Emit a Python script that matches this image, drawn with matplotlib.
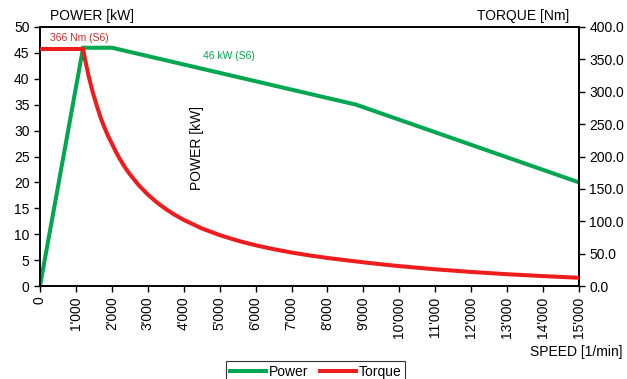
import matplotlib
matplotlib.use("Agg")
import matplotlib.pyplot as plt
from matplotlib.ticker import FuncFormatter, MultipleLocator

plt.rcParams['font.family'] = ['Liberation Sans', 'DejaVu Sans']

# Power curve breakpoints (speed in 1/min, power in kW)
power_speed = [0, 1200, 2000, 8800, 15000]
power_kw = [0, 46, 46, 35, 20]

# Torque curve (speed in 1/min, torque in Nm)
torque_speed = [0, 1200, 1250, 1300, 1350, 1400, 1450, 1500, 1600, 1700, 1800,
                1900, 2000, 2100, 2200, 2300, 2400, 2500, 2750, 3000, 3250,
                3500, 3750, 4000, 4500, 5000, 5500, 6000, 6500, 7000, 7500,
                8000, 8500, 9000, 9500, 10000, 11000, 12000, 13000, 14000, 15000]
torque_nm = [366, 366, 351, 338, 325, 314, 303, 293, 275, 258, 244,
             231, 220, 208.5, 198.3, 189, 180.4, 172.6, 155.5, 141.3, 129.2,
             118.9, 109.9, 102.1, 89, 78.6, 70, 62.9, 56.9, 51.7, 47.2,
             43.3, 39.9, 36.6, 33.5, 30.7, 25.8, 21.7, 18.2, 15.3, 12.7]

speed_ticks = list(range(0, 15001, 1000))

GREEN = '#00a650'
RED = '#ee1c1c'

fig = plt.figure(figsize=(6.27, 3.79), dpi=100)
ax = fig.add_axes([40 / 627, 1 - 286 / 379, 539 / 627, 259 / 379])
ax2 = ax.twinx()

lp, = ax.plot(power_speed, power_kw, color=GREEN, lw=2.9, solid_joinstyle='miter',
              label='Power', zorder=3)
lt, = ax2.plot(torque_speed, torque_nm, color=RED, lw=2.9, solid_joinstyle='round',
               label='Torque', zorder=3)

ax.set_xlim(0, 15000)
ax.set_ylim(0, 50)
ax2.set_ylim(0, 400)
ax.set_xticks(speed_ticks)
ax.xaxis.set_major_formatter(FuncFormatter(lambda v, p: f"{int(v):,}".replace(',', "'")))
ax.yaxis.set_major_locator(MultipleLocator(5))
ax2.yaxis.set_major_locator(MultipleLocator(50))
ax2.yaxis.set_major_formatter(FuncFormatter(lambda v, p: f"{v:.1f}"))

for a in (ax, ax2):
    a.tick_params(direction='out', length=4, width=1, labelsize=10, colors='black')
    for s in a.spines.values():
        s.set_linewidth(1.2)
ax.tick_params(axis='x', labelrotation=90)

fig.text(50 / 627, 1 - 16 / 379, 'POWER [kW]', fontsize=10, va='center', ha='left')
fig.text(569 / 627, 1 - 16 / 379, 'TORQUE [Nm]', fontsize=10, va='center', ha='right')
fig.text(622 / 627, 1 - 352 / 379, 'SPEED [1/min]', fontsize=10, va='center', ha='right')
fig.text(197 / 627, 1 - 148 / 379, 'POWER [kW]', fontsize=10, rotation=90,
         va='center', ha='center')

ax.text(280, 47.8, '366 Nm (S6)', color='#d42a2a', fontsize=7.5, va='center', ha='left')
ax.text(4550, 44.4, '46 kW (S6)', color=GREEN, fontsize=7.5, va='center', ha='left')

leg = fig.legend(handles=[lp, lt], loc='upper left', bbox_to_anchor=(226 / 627, 1 - 361 / 379),
                 ncol=2, frameon=True, fancybox=False, fontsize=10, handlelength=2.6,
                 handletextpad=0.2, columnspacing=0.8, borderpad=0.3, borderaxespad=0)
leg.get_frame().set_edgecolor('black')
leg.get_frame().set_linewidth(0.8)

fig.savefig('out.png', dpi=100)
